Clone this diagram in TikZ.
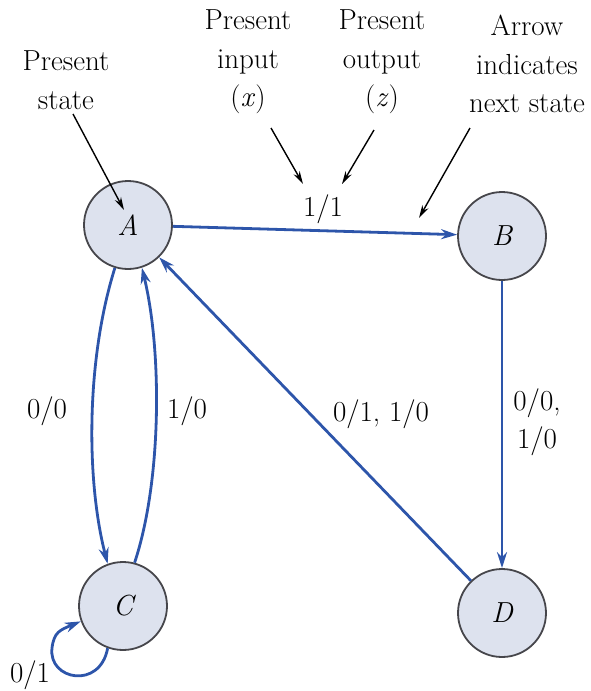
\documentclass[tikz,border=0pt]{standalone}
\usetikzlibrary{arrows.meta}
\definecolor{edgeblue}{RGB}{45,85,170}
\definecolor{statefill}{RGB}{221,226,238}
\definecolor{stateline}{RGB}{70,70,75}
\begin{document}
\begin{tikzpicture}[x=1pt, y=-1pt,
  font=\rmfamily\fontsize{29}{38.5}\selectfont,
  fsmstate/.style={circle, draw=stateline, line width=1.8pt, fill=statefill,
    minimum size=88pt, inner sep=0pt, font=\rmfamily\fontsize{29}{38.5}\selectfont\itshape},
  trans/.style={draw=edgeblue, line width=2.8pt, -{Stealth[length=16pt, width=10pt]}},
  note/.style={draw=black, line width=1.4pt, -{Stealth[length=13pt, width=7pt]}},
  lbl/.style={inner sep=0pt, align=center}]
\useasboundingbox (0,0) rectangle (590,691);

% states
\node[fsmstate] (A) at (128,225) {A};
\node[fsmstate] (B) at (502,236) {B};
\node[fsmstate] (C) at (123,606) {C};
\node[fsmstate] (D) at (502,613) {D};

% transitions
\draw[trans] (A) -- (B);
\draw[trans] (B) -- (D);
\draw[trans] (D) -- (A);
\draw[trans] (A.-107) .. controls (86,360) and (86,480) .. (C.110);
\draw[trans] (C.75) .. controls (162,480) and (162,350) .. (A.-72);
\draw[trans] (C.-110) .. controls (100,690) and (48,680) .. (52,648)
  .. controls (54,632) and (60,630) .. (C.200);

% transition labels
\node[lbl] (l11) at (323,209) {1/1};
\node[lbl] (l00) at (47,411) {0/0};
\node[lbl] (l10) at (187,411) {1/0};
\node[lbl] (lda) at (381,414) {0/1, 1/0};
\node[lbl] (lbd) at (537,422) {0/0,\\1/0};
\node[lbl] (lcc) at (30,675) {0/1};

% annotations
\node[lbl] (nstate) at (66,80) {Present\\state};
\node[lbl] (ninput) at (248,62) {Present\\input\\(\textit{x})};
\node[lbl] (noutput) at (382,62) {Present\\output\\(\textit{z})};
\node[lbl] (nnext) at (527,64) {Arrow\\indicates\\next state};

\coordinate (s0) at (73,114);  \coordinate (s1) at (124,210);
\coordinate (i0) at (271,128); \coordinate (i1) at (303,184);
\coordinate (o0) at (374,130); \coordinate (o1) at (342,184);
\coordinate (n0) at (470,128); \coordinate (n1) at (419,218);
\draw[note] (s0) -- (s1);
\draw[note] (i0) -- (i1);
\draw[note] (o0) -- (o1);
\draw[note] (n0) -- (n1);
\end{tikzpicture}
\end{document}
